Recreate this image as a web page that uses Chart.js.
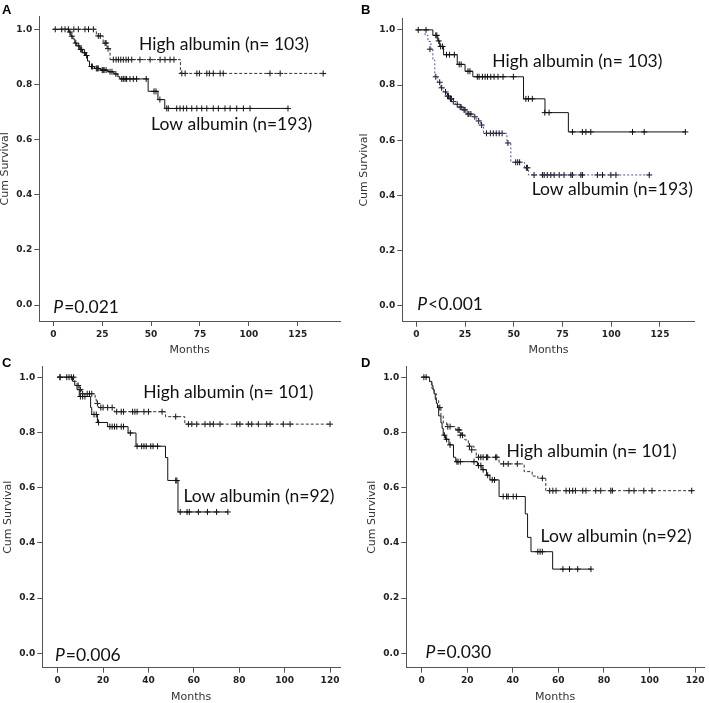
<!DOCTYPE html>
<html>

<head>
  <title>Cumulative survival by albumin level</title>
  <meta charset="UTF-8">
  <script src="https://cdn.jsdelivr.net/npm/chart.js@4.4.0/dist/chart.umd.min.js"></script>
  <style>
    body { margin: 0; background: #fff; }
    #wrap { position: relative; width: 709px; height: 703px; overflow: hidden; }
    canvas { position: absolute; }
  </style>
</head>

<body>
  <div id="wrap">
    <canvas id="chartA" width="354" height="356" style="left:0;top:0"></canvas>
    <canvas id="chartB" width="355" height="356" style="left:354px;top:0"></canvas>
    <canvas id="chartC" width="354" height="358" style="left:0;top:345px"></canvas>
    <canvas id="chartD" width="355" height="358" style="left:354px;top:345px"></canvas>
  </div>
  <script>
    // tick labels
    var monthTicksAB = [0, 25, 50, 75, 100, 125];
    var monthTicksCD = [0, 20, 40, 60, 80, 100, 120];
    var survivalTicks = [0, 0.2, 0.4, 0.6, 0.8, 1.0];

    // panel A: [month, cum survival]
    var aHighSteps = [[0, 1], [22, 0.976], [25.5, 0.95], [27.5, 0.93], [29, 0.89], [65, 0.84], [138, 0.84]];
    var aHighCensor = [[1, 1], [4.3, 1], [6, 1], [10.5, 1], [12.8, 1], [16.2, 1], [18, 1], [20.5, 1],
      [23, 0.976], [24, 0.976], [26.5, 0.95], [27, 0.95], [28, 0.93],
      [30.7, 0.89], [32.1, 0.89], [33.3, 0.89], [34.5, 0.89], [35.8, 0.89], [37.2, 0.89], [38.4, 0.89],
      [40.1, 0.89], [44.3, 0.89], [49.5, 0.89], [54.6, 0.89], [57.1, 0.89], [59.7, 0.89], [61.7, 0.89],
      [65.7, 0.84], [67.4, 0.84], [73.4, 0.84], [74.7, 0.84], [78.5, 0.84], [79.8, 0.84], [81.8, 0.84],
      [85.3, 0.84], [86.9, 0.84], [110.8, 0.84], [116, 0.84], [138, 0.84]];
    var aLowSteps = [[0, 1], [8, 0.99], [9, 0.975], [10, 0.965], [11, 0.95], [12, 0.94], [13.5, 0.927],
      [15, 0.915], [16.5, 0.905], [17.5, 0.885], [18.5, 0.865], [21, 0.858], [24, 0.852], [28, 0.846],
      [31, 0.838], [33, 0.828], [34, 0.82], [48.5, 0.775], [53.5, 0.745], [57, 0.713], [120, 0.713]];
    var aLowCensor = [[7.7, 1], [8.5, 0.99], [9.5, 0.975], [11.5, 0.95], [13, 0.94], [14, 0.927], [14.5, 0.927],
      [16, 0.915], [17, 0.905], [19.5, 0.865], [20, 0.865], [22, 0.858], [22.5, 0.858], [23, 0.858],
      [25, 0.852], [25.5, 0.852], [26, 0.852], [27, 0.852], [29, 0.846], [30, 0.846], [32, 0.838],
      [35, 0.82], [35.8, 0.82], [36.7, 0.82], [37.5, 0.82], [39.2, 0.82], [40.9, 0.82], [42.6, 0.82], [47.5, 0.82],
      [51.5, 0.775], [52.5, 0.775], [54.5, 0.745],
      [58, 0.713], [58.8, 0.713], [63.1, 0.713], [64.8, 0.713], [66.5, 0.713], [68.2, 0.713], [70.8, 0.713],
      [73.4, 0.713], [75.9, 0.713], [78.5, 0.713], [81.8, 0.713], [84.4, 0.713], [87.8, 0.713], [90.4, 0.713],
      [93.8, 0.713], [97.2, 0.713], [100.6, 0.713], [120, 0.713]];

    // panel B
    var bHighSteps = [[0, 1], [8.5, 0.98], [11, 0.96], [12, 0.94], [14, 0.91], [21, 0.875], [25, 0.85],
      [29, 0.83], [55, 0.75], [66, 0.70], [78, 0.63], [138, 0.63]];
    var bHighCensor = [[1, 1], [5, 1], [10, 0.98], [10.5, 0.98], [11.5, 0.96], [12.5, 0.94], [13.5, 0.94],
      [15.5, 0.91], [17, 0.91], [19.5, 0.91], [22, 0.875], [23, 0.875], [26.5, 0.85], [27.5, 0.85],
      [31.3, 0.83], [32.2, 0.83], [33.9, 0.83], [35.3, 0.83], [36.5, 0.83], [38.2, 0.83], [39.9, 0.83],
      [41.9, 0.83], [44.5, 0.83], [49.8, 0.83], [56.2, 0.75], [57.5, 0.75], [59.5, 0.75], [65.9, 0.70],
      [68.1, 0.70], [80.1, 0.63], [85.2, 0.63], [87, 0.63], [89.5, 0.63], [110.9, 0.63], [116.9, 0.63], [138, 0.63]];
    var bLowSteps = [[0, 1], [4.5, 0.98], [6, 0.958], [7.5, 0.93], [8.5, 0.89], [9.5, 0.83], [11, 0.81],
      [12.5, 0.79], [14, 0.775], [15.5, 0.76], [17, 0.75], [18.5, 0.74], [20, 0.73], [22, 0.72], [24, 0.71],
      [26, 0.695], [29, 0.685], [31, 0.67], [33, 0.655], [34.5, 0.625], [46.5, 0.59], [48.5, 0.52],
      [55.5, 0.50], [57.5, 0.474], [120, 0.474]];
    var bLowCensor = [[7, 0.93], [10, 0.83], [12, 0.81], [13, 0.79], [15, 0.775], [16, 0.76], [16.5, 0.76],
      [17.5, 0.75], [18, 0.75], [19, 0.74], [21, 0.73], [22.5, 0.72], [23, 0.72], [24.5, 0.71], [25, 0.71],
      [26.5, 0.695], [27, 0.695], [28, 0.695], [30, 0.685], [32, 0.67], [33.5, 0.655], [36, 0.625],
      [38, 0.625], [39.5, 0.625], [41, 0.625], [42.5, 0.625], [44, 0.625], [47, 0.59], [51, 0.52],
      [52, 0.52], [53, 0.52], [56.5, 0.50], [57, 0.50], [60.4, 0.474], [64.7, 0.474], [65.6, 0.474],
      [67.2, 0.474], [69, 0.474], [70.7, 0.474], [73.3, 0.474], [75.8, 0.474], [79.3, 0.474], [80.1, 0.474],
      [84.4, 0.474], [85.2, 0.474], [92.9, 0.474], [95.5, 0.474], [99.8, 0.474], [102.4, 0.474], [119.5, 0.474]];

    // panel C
    var cHighSteps = [[0, 1], [7.5, 0.985], [8.5, 0.97], [9.5, 0.955], [10.5, 0.94], [16.5, 0.92], [17, 0.905],
      [18, 0.89], [25, 0.875], [47.5, 0.857], [56, 0.83], [120, 0.83]];
    var cHighCensor = [[1, 1], [6, 1], [7, 1], [9, 0.97], [10, 0.955], [11, 0.94], [13, 0.94], [14, 0.94],
      [15, 0.94], [17.5, 0.905], [19, 0.89], [20, 0.89], [22, 0.89], [24, 0.89], [26, 0.875], [28, 0.875],
      [29, 0.875], [33, 0.875], [34, 0.875], [35, 0.875], [38, 0.875], [40, 0.875], [46, 0.875], [52, 0.857],
      [57.6, 0.83], [59.1, 0.83], [61.3, 0.83], [64.9, 0.83], [67.1, 0.83], [68.6, 0.83], [71.5, 0.83],
      [78.9, 0.83], [80.3, 0.83], [84, 0.83], [85.5, 0.83], [88.4, 0.83], [92.1, 0.83], [93.6, 0.83],
      [99.4, 0.83], [102.4, 0.83], [120, 0.83]];
    var cLowSteps = [[0, 1], [6.5, 0.985], [7.5, 0.97], [8.5, 0.955], [9.5, 0.93], [14.5, 0.89], [15, 0.865],
      [17.5, 0.836], [22, 0.821], [31, 0.798], [34.5, 0.75], [47.5, 0.709], [48.5, 0.626], [53, 0.512], [75, 0.512]];
    var cLowCensor = [[1, 1], [4, 1], [5, 1], [10, 0.93], [11, 0.93], [12, 0.93], [16, 0.865], [17, 0.865],
      [18, 0.836], [23, 0.821], [24, 0.821], [25, 0.821], [26, 0.821], [28, 0.821], [29, 0.821], [32, 0.798],
      [35, 0.75], [37, 0.75], [38, 0.75], [39, 0.75], [41, 0.75], [42, 0.75], [44, 0.75], [52, 0.626],
      [52.5, 0.626], [54, 0.512], [57, 0.512], [58, 0.512], [62, 0.512], [66, 0.512], [70, 0.512], [75, 0.512]];

    // panel D
    var dHighSteps = [[0, 1], [3.5, 0.98], [4.5, 0.96], [5.5, 0.94], [6.5, 0.915], [7.5, 0.89], [8.5, 0.86],
      [9.5, 0.835], [11, 0.821], [15, 0.809], [17.5, 0.79], [19, 0.773], [20.5, 0.75], [23, 0.737], [24, 0.71],
      [34, 0.686], [45, 0.658], [48.5, 0.642], [51, 0.634], [54.5, 0.589], [118.5, 0.589]];
    var dHighCensor = [[8, 0.89], [11.5, 0.821], [12.5, 0.821], [16, 0.809], [16.5, 0.809], [17, 0.79], [18, 0.79],
      [21, 0.75], [22, 0.737], [25, 0.71], [26, 0.71], [27, 0.71], [28.5, 0.71], [29, 0.71], [32.5, 0.71],
      [33, 0.71], [36, 0.686], [38, 0.686], [42, 0.686], [53, 0.634], [56.2, 0.589], [57.6, 0.589], [59, 0.589],
      [63.4, 0.589], [64.9, 0.589], [66.3, 0.589], [67.5, 0.589], [70.7, 0.589], [72.1, 0.589], [76.4, 0.589],
      [78.6, 0.589], [83, 0.589], [83.7, 0.589], [91, 0.589], [93.2, 0.589], [97.5, 0.589], [101.1, 0.589], [118.5, 0.589]];
    var dLowSteps = [[0, 1], [3.5, 0.985], [4.5, 0.97], [5, 0.955], [5.5, 0.94], [6, 0.92], [6.5, 0.905], [7, 0.89],
      [7.5, 0.86], [8.5, 0.835], [9, 0.815], [9.5, 0.79], [10.5, 0.775], [12, 0.755], [14, 0.71], [15, 0.694],
      [24.5, 0.68], [26.5, 0.665], [28.5, 0.645], [30, 0.628], [34, 0.568], [45.5, 0.505], [46.5, 0.42], [48, 0.368],
      [57.5, 0.305], [74.5, 0.305]];
    var dLowCensor = [[1, 1], [2, 1], [10, 0.79], [11, 0.775], [12.5, 0.755], [15.5, 0.694], [16, 0.694], [17, 0.694],
      [23, 0.694], [25, 0.68], [26, 0.68], [27, 0.665], [29, 0.645], [31, 0.628], [32, 0.628], [35.8, 0.568],
      [37.3, 0.568], [38, 0.568], [40.2, 0.568], [41.6, 0.568], [51, 0.368], [52, 0.368], [53, 0.368],
      [62, 0.305], [64.9, 0.305], [68.5, 0.305], [74.3, 0.305]];

    var groupLabels103 = ['High albumin (n= 103)', 'Low albumin (n=193)'];
    var groupLabels101 = ['High albumin (n= 101)', 'Low albumin (n=92)'];

    var tickFont = { family: 'DejaVu Sans', size: 9, weight: 'bold' };
    var titleFont = { family: 'DejaVu Sans', size: 11, lineHeight: 1 };
    var axisColor = '#555';

    function pts(arr) {
      return arr.map(function (p) { return { x: p[0], y: p[1] }; });
    }

    function curve(steps, color, dash) {
      return {
        data: pts(steps), stepped: 'before', borderColor: color, borderWidth: 1,
        borderDash: dash, pointRadius: 0, fill: false
      };
    }

    function censor(marks) {
      return {
        data: pts(marks), showLine: false, pointStyle: 'cross', pointRadius: 3,
        pointBorderColor: '#111', pointBorderWidth: 1, pointBackgroundColor: '#111'
      };
    }

    function makePanel(id, p) {
      var notes = {
        id: 'notes',
        afterDraw: function (chart) {
          var ctx = chart.ctx, xs = chart.scales.x, ys = chart.scales.y;
          ctx.save();
          ctx.fillStyle = '#111';
          ctx.textBaseline = 'middle';
          ctx.font = '17.5px Lato';
          p.labels.forEach(function (l) {
            ctx.fillText(l.text, xs.getPixelForValue(l.x), ys.getPixelForValue(l.y));
          });
          var px = xs.getPixelForValue(p.pval.x), py = ys.getPixelForValue(p.pval.y);
          ctx.font = 'italic 17.5px Lato';
          ctx.fillText('P', px, py);
          var w = ctx.measureText('P').width;
          ctx.font = '17.5px Lato';
          ctx.fillText(p.pval.text, px + w + 1, py);
          ctx.font = 'bold 13px "Liberation Sans"';
          ctx.textBaseline = 'top';
          ctx.fillStyle = '#000';
          ctx.fillText(p.letter, p.letterX, p.letterY);
          ctx.restore();
        }
      };

      new Chart(document.getElementById(id), {
        type: 'line',
        data: { datasets: p.datasets },
        options: {
          responsive: false,
          animation: false,
          events: [],
          layout: { padding: { left: 0, top: p.padTop, right: p.padRight, bottom: p.padBottom } },
          plugins: { legend: { display: false }, tooltip: { enabled: false } },
          scales: {
            x: {
              type: 'linear', min: p.xMin, max: p.xMax, bounds: 'data',
              afterBuildTicks: function (s) { s.ticks = p.xTicks.map(function (v) { return { value: v }; }); },
              afterFit: function (s) { s.height = p.xHeight; },
              grid: { drawOnChartArea: false, tickLength: 5, tickColor: axisColor },
              border: { display: true, color: axisColor, width: 1 },
              ticks: { font: tickFont, color: '#222', padding: 3, maxRotation: 0, autoSkip: false },
              title: { display: true, text: 'Months', font: titleFont, color: '#333', padding: 0 }
            },
            y: {
              type: 'linear', min: p.yMin, max: p.yMax, bounds: 'data',
              afterBuildTicks: function (s) { s.ticks = survivalTicks.map(function (v) { return { value: v }; }); },
              afterFit: function (s) { s.width = p.yWidth; },
              grid: { drawOnChartArea: false, tickLength: 5, tickColor: axisColor },
              border: { display: true, color: axisColor, width: 1 },
              ticks: {
                font: tickFont, color: '#222', padding: 2, autoSkip: false,
                callback: function (v) { return v.toFixed(1); }
              },
              title: {
                display: true, text: 'Cum Survival', font: titleFont, color: '#333',
                padding: { top: p.yTitlePad, bottom: 0 }
              }
            }
          }
        },
        plugins: [notes]
      });
    }

    makePanel('chartA', {
      datasets: [curve(aHighSteps, '#333', [3, 2]), curve(aLowSteps, '#111', []), censor(aHighCensor), censor(aLowCensor)],
      xTicks: monthTicksAB, xMin: -7.16, xMax: 146.6, yMin: -0.058, yMax: 1.0457,
      padTop: 16.7, padRight: 14, padBottom: 0.5, yWidth: 39.3, xHeight: 34.5, yTitlePad: 0,
      labels: [{ text: groupLabels103[0], x: 43.8, y: 0.947 }, { text: groupLabels103[1], x: 50, y: 0.655 }],
      pval: { text: '=0.021', x: 0, y: -0.007 }, letter: 'A', letterX: 2, letterY: 4
    });

    makePanel('chartB', {
      datasets: [curve(bHighSteps, '#111', []), curve(bLowSteps, '#4a4aa8', [2, 2]), censor(bHighCensor), censor(bLowCensor)],
      xTicks: monthTicksAB, xMin: -7.18, xMax: 142.8, yMin: -0.058, yMax: 1.042,
      padTop: 18.3, padRight: 14.3, padBottom: 0.5, yWidth: 48.3, xHeight: 33.8, yTitlePad: 4.5,
      labels: [{ text: groupLabels103[0], x: 39, y: 0.885 }, { text: groupLabels103[1], x: 59.2, y: 0.42 }],
      pval: { text: '<0.001', x: 0.5, y: 0.006 }, letter: 'B', letterX: 7, letterY: 4
    });

    makePanel('chartC', {
      datasets: [curve(cHighSteps, '#333', [3, 2]), curve(cLowSteps, '#111', []), censor(cHighCensor), censor(cLowCensor)],
      xTicks: monthTicksCD, xMin: -6.79, xMax: 124.4, yMin: -0.052, yMax: 1.038,
      padTop: 21.7, padRight: 14, padBottom: 0.8, yWidth: 42.3, xHeight: 34.5, yTitlePad: 2.8,
      labels: [{ text: groupLabels101[0], x: 37.7, y: 0.946 }, { text: groupLabels101[1], x: 55.4, y: 0.569 }],
      pval: { text: '=0.006', x: -1.2, y: -0.009 }, letter: 'C', letterX: 2, letterY: 11.7
    });

    makePanel('chartD', {
      datasets: [curve(dHighSteps, '#333', [3, 2]), curve(dLowSteps, '#111', []), censor(dHighCensor), censor(dLowCensor)],
      xTicks: monthTicksCD, xMin: -6.7, xMax: 123.9, yMin: -0.052, yMax: 1.038,
      padTop: 21.7, padRight: 2.7, padBottom: 0.8, yWidth: 52.3, xHeight: 34.5, yTitlePad: 12.8,
      labels: [{ text: groupLabels101[0], x: 37.3, y: 0.733 }, { text: groupLabels101[1], x: 52.2, y: 0.422 }],
      pval: { text: '=0.030', x: 1.7, y: 0.004 }, letter: 'D', letterX: 7, letterY: 11.7
    });
  </script>
</body>

</html>
